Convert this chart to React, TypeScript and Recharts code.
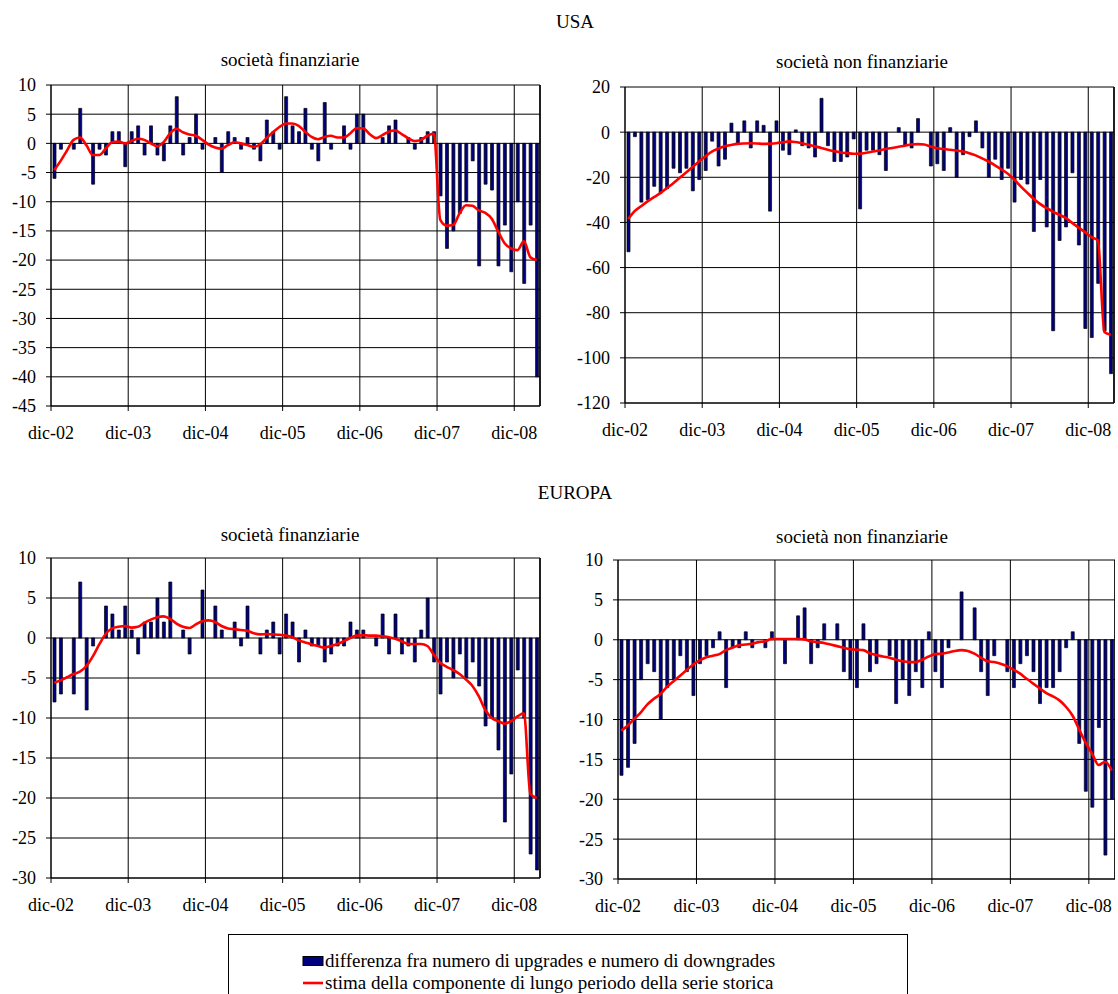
import React from 'react';
import { ComposedChart, Bar, Line, XAxis, YAxis, CartesianGrid, ReferenceLine } from 'recharts';

// ---------- categories (monthly, dic-02 .. mar-09) ----------
const monthNames = ['gen', 'feb', 'mar', 'apr', 'mag', 'giu', 'lug', 'ago', 'set', 'ott', 'nov', 'dic'];
const buildMonths = (startMonth: number, startYear: number, count: number): string[] => {
  const out: string[] = [];
  let m = startMonth;
  let y = startYear;
  for (let k = 0; k < count; k++) {
    out.push(`${monthNames[m]}-${String(y).padStart(2, '0')}`);
    m += 1;
    if (m === 12) { m = 0; y += 1; }
  }
  return out;
};
const categories: string[] = buildMonths(11, 2, 76);
const xTickIndexes: number[] = categories.map((c, i) => (c.startsWith('dic') ? i : -1)).filter((i) => i >= 0);

// ---------- USA, società finanziarie ----------
const usaFinBars = [
  -6, -1, 0, -1, 6, 0, -7, -1, -2, 2, 2, -4,
  2, 3, -2, 3, -2, -3, 3, 8, -2, 1, 5, -1,
  0, 1, -5, 2, 1, -1, 1, -1, -3, 4, 2, -1,
  8, 3, 2, 6, -1, -3, 7, -1, 0, 3, -1, 5,
  5, 0, 0, 1, 3, 4, 0, 1, -1, 1, 2, 2,
  -9, -18, -15, -12, -10, -3, -21, -7, -8, -21, -14, -22,
  -10, -24, -14, -40,
];
const usaFinTrend = [
  -4.6, -3.0, -1.2, 0.6, 1.0, -0.3, -2.0, -2.0, -0.9, 0.2, 0.3, 0.0,
  0.4, 0.8, 0.6, 0.0, -0.5, 0.2, 1.7, 2.5, 1.9, 1.5, 1.3, 0.6,
  -0.2, -0.7, -0.9, -0.3, 0.2, 0.0, -0.3, -0.6, -0.2, 0.9, 1.9, 2.8,
  3.4, 3.4, 3.0, 2.0, 1.1, 0.7, 1.1, 1.3, 1.0, 1.0, 1.7, 2.6,
  2.6, 1.6, 0.9, 1.4, 2.0, 2.2, 1.6, 0.9, 0.4, 0.6, 1.3, 1.7,
  -13.1, -14.1, -14.0, -12.0, -10.6, -10.7, -11.5, -11.9, -12.9, -15.1, -17.1, -18.0,
  -18.3, -16.8, -19.5, -20.0,
];

// ---------- USA, società non finanziarie ----------
const usaNonFinBars = [
  -53, -2, -31, -30, -24, -27, -25, -16, -18, -16, -26, -21,
  -17, -4, -15, -12, 4, -5, 5, -7, 5, 3, -35, 5,
  -8, -10, 1, -6, -7, -11, 15, -6, -13, -13, -11, -3,
  -34, -8, -8, -10, -17, 0, 2, -6, -7, 6, 0, -15,
  -14, -17, 2, -20, -10, -2, 5, -7, -20, -12, -21, -16,
  -31, -21, -23, -44, -21, -42, -88, -48, -42, -18, -50, -87,
  -91, -67, -88, -107,
];
const usaNonFinTrend = [
  -38.5, -35, -32.8, -30.7, -28.8, -27, -24.8, -22.6, -20.2, -17.9, -15.4, -13,
  -10.7, -8.6, -7.3, -6.3, -5.7, -5.2, -5.0, -4.9, -5.0, -5.2, -5.1, -4.9,
  -4.5, -4.1, -4.4, -4.9, -5.6, -6.3, -7.0, -7.8, -8.4, -9.0, -9.3, -9.6,
  -9.5, -9.1, -8.6, -8.1, -7.5, -7.0, -6.5, -6.0, -5.5, -5.3, -5.5, -6.4,
  -7.1, -7.5, -7.8, -8.1, -8.6, -9.3, -10.3, -11.6, -13.0, -14.7, -16.5, -18.4,
  -21, -24, -26.8, -29.5, -31.8, -33.6, -35.2, -36.6, -38.0, -40.2, -42.3, -44.3,
  -46.5, -48, -88.5, -89.7,
];

// ---------- EUROPA, società finanziarie ----------
const euFinBars = [
  -8, -7, 0, -7, 7, -9, -1, 0, 4, 3, 1, 4,
  1, -2, 2, 2, 5, 2, 7, 0, 1, -2, 0, 6,
  0, 4, 1, 0, 2, -1, 4, 0, -2, 1, 2, -2,
  3, 2, -3, 1, -1, -1, -3, -2, -1, -1, 2, 1,
  1, 0, -1, 3, -2, 3, -2, -1, -3, 1, 5, -3,
  -7, -3, -5, -2, -5, -3, -6, -11, -10, -14, -23, -17,
  -4, -10, -27, -29,
];
const euFinTrend = [
  -5.6, -5.3, -4.9, -4.5, -4.2, -3.5, -2.3, -0.8, 0.5, 1.2, 1.4, 1.5,
  1.3, 1.4, 1.9, 2.3, 2.6, 2.7, 2.4, 1.8, 1.4, 1.25, 1.7, 2.1,
  2.2, 2.0, 1.5, 1.2, 1.1, 1.0, 0.9, 0.6, 0.45, 0.5, 0.45, 0.4,
  0.3, 0.1, -0.3, -0.55, -0.8, -1.0, -1.2, -1.0, -0.75, -0.4, 0.0, 0.3,
  0.35, 0.3, 0.3, 0.2, 0.1, -0.1, -0.4, -0.75, -0.75, -0.75, -1.0, -2.1,
  -3.1, -3.6, -4.0, -4.5, -5.2, -6.0, -7.3, -9.0, -10.0, -10.4, -10.7, -10.4,
  -9.8, -9.4, -19.5, -20.0,
];

// ---------- EUROPA, società non finanziarie ----------
const euNonFinBars = [
  -17, -16, -13, -5, -3, -4, -10, -6, -5, -2, -4, -7,
  -3, -2, -1, 1, -6, -1, -1, 1, -1, 0, -1, 1,
  0, -3, 0, 3, 4, -3, -1, 2, 0, 2, -4, -5,
  -6, 2, -4, -3, 0, -2, -8, -5, -7, -4, -6, 1,
  -4, -6, -1, 0, 6, 0, 4, -4, -7, -2, 0, -4,
  -6, -3, -2, -4, -8, -6, -6, -4, -1, 1, -13, -19,
  -21, -11, -27, -20,
];
const euNonFinTrend = [
  -11.4, -10.75, -9.9, -9.1, -8.1, -7.4, -6.8, -5.9, -5.2, -4.5, -3.8, -3.1,
  -2.6, -2.2, -2.0, -1.8, -1.3, -1.0, -0.7, -0.6, -0.5, -0.3, -0.2, 0.1,
  0.1, 0.1, 0.1, 0.1, 0.05, -0.2, -0.3, -0.4, -0.6, -0.8, -1.0, -1.2,
  -1.25, -1.3, -1.7, -1.9, -2.1, -2.25, -2.5, -2.7, -2.8, -2.8, -2.5, -2.1,
  -1.8, -1.75, -1.6, -1.4, -1.3, -1.4, -1.75, -2.25, -2.7, -2.8, -3.0, -3.3,
  -3.75, -4.25, -4.9, -5.5, -6.1, -6.7, -7.1, -7.6, -8.4, -9.5, -11.2, -12.9,
  -14.3, -15.7, -15.3, -16.4,
];

// ---------- y-axis ticks ----------
const finUsaTicks = [10, 5, 0, -5, -10, -15, -20, -25, -30, -35, -40, -45];
const nonFinUsaTicks = [20, 0, -20, -40, -60, -80, -100, -120];
const euTicks = [10, 5, 0, -5, -10, -15, -20, -25, -30];

// ---------- texts ----------
const titleUsa = 'USA';
const titleEu = 'EUROPA';
const subFin = 'società finanziarie';
const subNonFin = 'società non finanziarie';
const legendBars = 'differenza fra numero di upgrades e numero di downgrades';
const legendLine = 'stima della componente di lungo periodo della serie storica';

const FONT = '"Liberation Serif", "Times New Roman", serif';
const FS_TICK = 18;
const FS_TEXT = 19;

type PanelProps = {
  left: number;
  top: number;
  width: number;
  height: number;
  marginRight: number;
  bars: number[];
  trend: number[];
  domain: [number, number];
  yTicks: number[];
};

function Panel({ left, top, width, height, marginRight, bars, trend, domain, yTicks }: PanelProps) {
  const data = categories.map((c, i) => ({ x: i + 0.5, cat: c, bar: bars[i], trend: trend[i] }));
  const tickStyle = { fill: '#000', fontSize: FS_TICK, style: { fontFamily: FONT } };
  return (
    <div style={{ position: 'absolute', left, top, fontFamily: FONT }}>
      <ComposedChart
        width={width}
        height={height}
        data={data}
        margin={{ top: 10, right: marginRight, bottom: 0, left: 0 }}
        style={{ fontFamily: FONT }}
      >
        <CartesianGrid stroke="#000" strokeWidth={1} />
        <XAxis
          dataKey="x"
          type="number"
          domain={[0, categories.length]}
          ticks={xTickIndexes}
          interval={0}
          tickFormatter={(v: number) => categories[v]}
          height={49}
          tickSize={5}
          tickMargin={15}
          stroke="#000"
          tick={tickStyle}
        />
        <YAxis
          type="number"
          domain={domain}
          ticks={yTicks}
          interval={0}
          width={51}
          tickSize={5}
          tickMargin={10}
          stroke="#000"
          tick={tickStyle}
        />
        <ReferenceLine x={categories.length} stroke="#000" strokeWidth={1.5} />
        <Bar dataKey="bar" fill="#000080" stroke="#000" strokeWidth={0.7} barSize={3} isAnimationActive={false} />
        <Line
          dataKey="trend"
          type="monotone"
          stroke="#ff0000"
          strokeWidth={2.6}
          dot={false}
          activeDot={false}
          isAnimationActive={false}
        />
      </ComposedChart>
    </div>
  );
}

const textStyle = (cx: number, cy: number): React.CSSProperties => ({
  position: 'absolute',
  left: cx - 200,
  top: cy - 12,
  width: 400,
  height: 24,
  lineHeight: '24px',
  textAlign: 'center',
  fontSize: FS_TEXT,
  color: '#000',
  whiteSpace: 'nowrap',
});

export default function App() {
  return (
    <div
      style={{
        position: 'absolute',
        left: 0,
        top: 0,
        width: 1118,
        height: 994,
        overflow: 'hidden',
        background: '#fff',
        fontFamily: FONT,
      }}
    >
      <div style={textStyle(575, 22)}>{titleUsa}</div>
      <div style={textStyle(290, 60)}>{subFin}</div>
      <div style={textStyle(862, 62)}>{subNonFin}</div>
      <div style={textStyle(575, 493)}>{titleEu}</div>
      <div style={textStyle(290, 535)}>{subFin}</div>
      <div style={textStyle(862, 537)}>{subNonFin}</div>

      <Panel left={0} top={75} width={545} height={380} marginRight={5}
        bars={usaFinBars} trend={usaFinTrend} domain={[-45, 10]} yTicks={finUsaTicks} />
      <Panel left={574} top={77} width={544} height={375} marginRight={4}
        bars={usaNonFinBars} trend={usaNonFinTrend} domain={[-120, 20]} yTicks={nonFinUsaTicks} />
      <Panel left={0} top={548} width={545} height={379} marginRight={5}
        bars={euFinBars} trend={euFinTrend} domain={[-30, 10]} yTicks={euTicks} />
      <Panel left={567} top={550} width={548} height={378} marginRight={0}
        bars={euNonFinBars} trend={euNonFinTrend} domain={[-30, 10]} yTicks={euTicks} />

      <div
        style={{
          position: 'absolute',
          left: 228,
          top: 934,
          width: 680,
          height: 90,
          border: '1px solid #000',
          boxSizing: 'border-box',
          fontSize: FS_TEXT,
          color: '#000',
        }}
      >
        <div style={{ position: 'absolute', left: 73, top: 14, height: 24, display: 'flex', alignItems: 'center', whiteSpace: 'nowrap' }}>
          <svg width={22} height={12} style={{ marginRight: 1 }}>
            <rect x={1} y={1.5} width={20} height={9} fill="#000080" stroke="#000" strokeWidth={1} />
          </svg>
          <span>{legendBars}</span>
        </div>
        <div style={{ position: 'absolute', left: 73, top: 36, height: 24, display: 'flex', alignItems: 'center', whiteSpace: 'nowrap' }}>
          <svg width={22} height={12} style={{ marginRight: 1 }}>
            <line x1={1} y1={6} x2={21} y2={6} stroke="#ff0000" strokeWidth={2.6} />
          </svg>
          <span>{legendLine}</span>
        </div>
      </div>
    </div>
  );
}
